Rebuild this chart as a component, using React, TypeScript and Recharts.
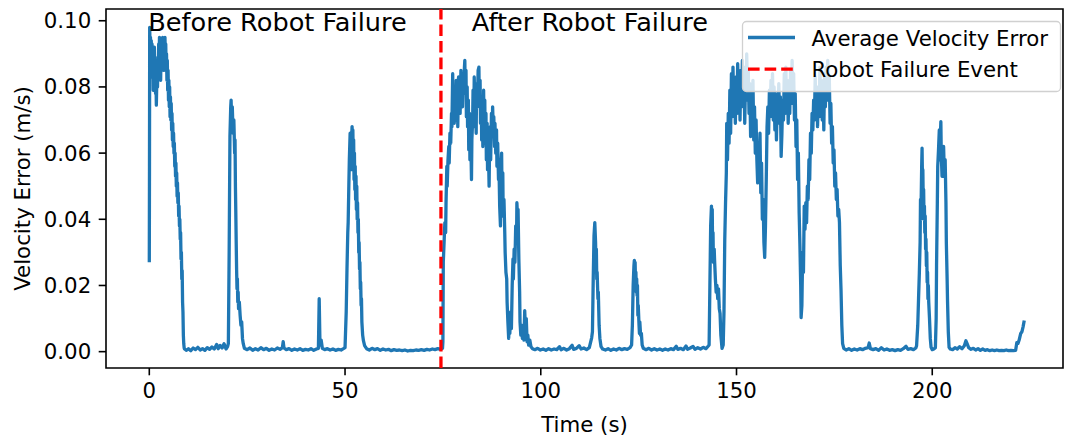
import React from 'react';
import {
  LineChart,
  Line,
  XAxis,
  YAxis,
  ReferenceLine,
  ReferenceArea,
  ReferenceDot,
  Legend,
  Label,
} from 'recharts';

// Time (s) / average velocity error (m/s) samples, one array per stretch of the run.
const burstAtStart: [number, number][] = [
  [0, 0.027], [0.05, 0.056], [0.1, 0.098], [0.2, 0.091], [0.3, 0.095], [0.4, 0.088], [0.5, 0.094],
  [0.6, 0.087], [0.7, 0.093], [0.8, 0.083], [0.9, 0.091], [1.0, 0.079], [1.1, 0.089], [1.2, 0.085],
  [1.3, 0.092], [1.4, 0.084], [1.5, 0.088], [1.6, 0.078], [1.7, 0.083], [1.8, 0.0745], [1.9, 0.081],
  [2.0, 0.086], [2.1, 0.08], [2.2, 0.089], [2.3, 0.083], [2.4, 0.093], [2.5, 0.086], [2.6, 0.095],
  [2.7, 0.084], [2.8, 0.09], [2.9, 0.082], [3.0, 0.091], [3.1, 0.086], [3.2, 0.094], [3.3, 0.088],
  [3.4, 0.095], [3.5, 0.087], [3.6, 0.092], [3.7, 0.085], [3.8, 0.094], [3.9, 0.087], [4.0, 0.095],
  [4.1, 0.089], [4.2, 0.093], [4.3, 0.086], [4.4, 0.09], [4.5, 0.082], [4.6, 0.088], [4.7, 0.079],
  [4.8, 0.085], [4.9, 0.076], [5.0, 0.082], [5.1, 0.074], [5.2, 0.08], [5.3, 0.071], [5.4, 0.077],
  [5.5, 0.07], [5.6, 0.075], [5.7, 0.067], [5.8, 0.072], [5.9, 0.064], [6.0, 0.069], [6.1, 0.062],
  [6.2, 0.066], [6.3, 0.06], [6.4, 0.063], [6.5, 0.056], [6.6, 0.06], [6.7, 0.053], [6.8, 0.057],
  [6.9, 0.05], [7.0, 0.054], [7.1, 0.047], [7.2, 0.051], [7.3, 0.045], [7.4, 0.048], [7.5, 0.041],
  [7.6, 0.044], [7.7, 0.038], [7.8, 0.04], [7.9, 0.034], [8.0, 0.036], [8.1, 0.028], [8.2, 0.03],
  [8.3, 0.022], [8.4, 0.0245], [8.5, 0.015], [8.6, 0.012], [8.7, 0.005], [8.8, 0.0024], [8.9, 0.0012],
  [9.0, 0.0008],
];

const quietBefore1: [number, number][] = [
  [9.5, 0.0004], [10, 0.0009], [10.6, 0.0003], [11.2, 0.0011], [11.8, 0.0006], [12.4, 0.0013],
  [13, 0.0005], [13.6, 0.0009], [14.2, 0.0004], [14.8, 0.0012], [15.4, 0.0007], [16.0, 0.0014],
  [16.6, 0.0008], [17.2, 0.0022], [17.6, 0.0009], [18.1, 0.0019], [18.6, 0.0011], [19.1, 0.0024],
  [19.6, 0.0008], [20.0, 0.0015],
];

const spikeAt21: [number, number][] = [
  [20.2, 0.0025], [20.4, 0.03], [20.6, 0.065], [20.8, 0.074], [20.9, 0.076], [21.0, 0.071],
  [21.2, 0.074], [21.4, 0.066], [21.6, 0.07], [21.8, 0.06], [21.9, 0.064], [22.0, 0.05], [22.1, 0.042],
  [22.2, 0.033], [22.3, 0.025], [22.4, 0.019], [22.5, 0.022], [22.6, 0.015], [22.7, 0.018],
  [22.8, 0.013], [23.0, 0.015], [23.2, 0.011], [23.4, 0.008], [23.6, 0.009], [23.8, 0.004],
  [24.0, 0.0024], [24.3, 0.001],
];

const quietBefore2: [number, number][] = [
  [25, 0.0006], [25.7, 0.0011], [26.4, 0.0004], [27.1, 0.0009], [27.8, 0.0005], [28.5, 0.0012],
  [29.2, 0.0006], [29.9, 0.001], [30.6, 0.0004], [31.3, 0.0008], [32.0, 0.0005], [32.7, 0.0011],
  [33.4, 0.0007], [34.0, 0.0012], [34.2, 0.003], [34.4, 0.0011], [35.0, 0.0006], [35.7, 0.0009],
  [36.4, 0.0004], [37.1, 0.0008], [37.8, 0.0005], [38.5, 0.0009], [39.2, 0.0004], [39.9, 0.0007],
  [40.6, 0.0005], [41.3, 0.0009], [42.0, 0.0004], [42.7, 0.0008], [43.2, 0.001], [43.4, 0.016],
  [43.6, 0.002], [43.9, 0.0035], [44.2, 0.001], [44.8, 0.0006], [45.5, 0.0009], [46.2, 0.0005],
  [46.9, 0.0008], [47.6, 0.0004], [48.3, 0.0007], [49.0, 0.0005], [49.6, 0.0009],
];

const spikeAt52: [number, number][] = [
  [50.0, 0.0012], [50.3, 0.012], [50.5, 0.025], [50.7, 0.036], [50.8, 0.039], [51.0, 0.052],
  [51.1, 0.058], [51.3, 0.066], [51.4, 0.06], [51.5, 0.064], [51.6, 0.055], [51.7, 0.065],
  [51.8, 0.068], [51.9, 0.061], [52.0, 0.067], [52.1, 0.058], [52.2, 0.064], [52.3, 0.052],
  [52.4, 0.06], [52.5, 0.049], [52.6, 0.056], [52.7, 0.046], [52.8, 0.053], [52.9, 0.043],
  [53.0, 0.05], [53.1, 0.04], [53.2, 0.045], [53.3, 0.036], [53.4, 0.04], [53.5, 0.03], [53.6, 0.033],
  [53.7, 0.025], [53.8, 0.027], [53.9, 0.019], [54.0, 0.021], [54.1, 0.014], [54.2, 0.016],
  [54.3, 0.009], [54.5, 0.005], [54.7, 0.0033], [55.0, 0.0018], [55.5, 0.0009],
];

const quietBefore3: [number, number][] = [
  [56.2, 0.0005], [56.9, 0.001], [57.6, 0.0006], [58.3, 0.0009], [59.0, 0.0004], [59.7, 0.0008],
  [60.4, 0.0005], [61.1, 0.0007], [61.8, 0.0003], [62.5, 0.0006], [63.2, 0.0004], [63.9, 0.0005],
  [64.6, 0.0003], [65.3, 0.0005], [66.0, 0.0002], [66.7, 0.0004], [67.4, 0.0003], [68.1, 0.0005],
  [68.8, 0.0004], [69.5, 0.0006], [70.2, 0.0004], [70.9, 0.0007], [71.6, 0.0005], [72.3, 0.0008],
  [73.0, 0.0006], [73.7, 0.0009], [74.4, 0.0007], [74.9, 0.001],
];

const burstAfterFailure: [number, number][] = [
  [75.0, 0.003], [75.1, 0.027], [75.3, 0.033], [75.5, 0.039], [75.7, 0.036], [75.8, 0.045],
  [76.0, 0.056], [76.1, 0.05], [76.3, 0.058], [76.5, 0.062], [76.6, 0.057], [76.8, 0.066],
  [77.0, 0.063], [77.2, 0.072], [77.3, 0.068], [77.5, 0.084], [77.6, 0.071], [77.8, 0.08],
  [77.9, 0.069], [78.1, 0.078], [78.2, 0.072], [78.4, 0.082], [78.5, 0.07], [78.7, 0.079],
  [78.8, 0.068], [79.0, 0.083], [79.1, 0.073], [79.3, 0.081], [79.4, 0.072], [79.6, 0.085],
  [79.7, 0.076], [79.9, 0.082], [80.0, 0.074], [80.2, 0.084], [80.3, 0.078], [80.5, 0.086],
  [80.6, 0.088], [80.7, 0.079], [80.9, 0.085], [81.0, 0.071], [81.2, 0.08], [81.3, 0.068],
  [81.5, 0.076], [81.6, 0.061], [81.8, 0.072], [81.9, 0.058], [82.1, 0.066], [82.3, 0.052],
  [82.4, 0.064], [82.6, 0.07], [82.7, 0.079], [82.9, 0.068], [83.0, 0.083], [83.2, 0.072],
  [83.3, 0.078], [83.5, 0.066], [83.6, 0.081], [83.8, 0.074], [84.0, 0.085], [84.2, 0.086],
  [84.3, 0.075], [84.5, 0.082], [84.6, 0.069], [84.8, 0.077], [84.9, 0.064], [85.1, 0.074],
  [85.2, 0.062], [85.4, 0.079], [85.5, 0.068], [85.7, 0.076], [85.8, 0.063], [86.0, 0.072],
  [86.1, 0.058], [86.3, 0.069], [86.4, 0.055], [86.6, 0.063], [86.8, 0.05], [86.9, 0.06],
  [87.1, 0.068], [87.2, 0.058], [87.4, 0.072], [87.6, 0.065], [87.7, 0.074], [87.9, 0.066],
  [88.0, 0.071], [88.2, 0.062], [88.3, 0.069], [88.5, 0.06], [88.7, 0.067], [88.8, 0.056],
  [89.0, 0.063], [89.2, 0.052], [89.3, 0.058], [89.5, 0.044], [89.7, 0.038], [89.8, 0.055],
  [90.0, 0.06], [90.1, 0.047], [90.3, 0.054], [90.4, 0.041], [90.6, 0.046], [90.8, 0.036],
  [90.9, 0.03], [91.1, 0.024], [91.3, 0.022], [91.4, 0.015], [91.6, 0.009], [91.8, 0.004],
  [91.9, 0.007], [92.1, 0.0055], [92.3, 0.012], [92.5, 0.007], [92.7, 0.02], [92.9, 0.028],
  [93.0, 0.022], [93.2, 0.031], [93.4, 0.027], [93.6, 0.038], [93.8, 0.033], [93.9, 0.045],
  [94.1, 0.04], [94.2, 0.043], [94.4, 0.028], [94.6, 0.018], [94.7, 0.009], [94.9, 0.005],
  [95.1, 0.008], [95.3, 0.004], [95.5, 0.007], [95.7, 0.0035], [95.9, 0.0124], [96.1, 0.006],
  [96.3, 0.01], [96.5, 0.003], [96.7, 0.005], [96.9, 0.002], [97.2, 0.0035], [97.5, 0.0015],
  [97.9, 0.0009],
];

const quietAfter1: [number, number][] = [
  [98.5, 0.0006], [99.2, 0.001], [99.9, 0.0005], [100.6, 0.0008], [101.3, 0.0004], [102.0, 0.0009],
  [102.7, 0.0005], [103.4, 0.0008], [104.1, 0.0006], [104.8, 0.0015], [105.2, 0.0006], [105.9, 0.001],
  [106.6, 0.0005], [107.3, 0.0009], [108.0, 0.0019], [108.4, 0.0007], [109.1, 0.001], [109.8, 0.0018],
  [110.3, 0.0008], [111.0, 0.0011], [111.7, 0.0006], [112.4, 0.0012], [113.0, 0.0042],
];

const spikeAt114: [number, number][] = [
  [113.2, 0.006], [113.4, 0.022], [113.6, 0.035], [113.8, 0.039], [113.9, 0.036], [114.0, 0.033],
  [114.1, 0.026], [114.2, 0.031], [114.3, 0.022], [114.4, 0.024], [114.6, 0.016], [114.7, 0.018],
  [114.9, 0.008], [115.1, 0.004], [115.4, 0.0015], [115.8, 0.0008],
];

const quietAfter2: [number, number][] = [
  [116.5, 0.0005], [117.2, 0.0009], [117.9, 0.0004], [118.6, 0.0008], [119.3, 0.0005], [120.0, 0.001],
  [120.7, 0.0006], [121.4, 0.0009], [122.1, 0.0007], [122.8, 0.0012], [123.2, 0.002],
];

const spikeAt124: [number, number][] = [
  [123.4, 0.008], [123.6, 0.02], [123.8, 0.026], [123.9, 0.0276], [124.0, 0.025], [124.1, 0.027],
  [124.2, 0.021], [124.3, 0.024], [124.4, 0.018], [124.5, 0.022], [124.6, 0.017], [124.7, 0.02],
  [124.8, 0.011], [124.9, 0.014], [125.1, 0.008], [125.2, 0.0055], [125.3, 0.009], [125.5, 0.005],
  [125.7, 0.0055], [125.9, 0.002], [126.2, 0.001],
];

const quietAfter3: [number, number][] = [
  [126.9, 0.0006], [127.6, 0.001], [128.3, 0.0005], [129.0, 0.0009], [129.7, 0.0005], [130.4, 0.0008],
  [131.1, 0.0004], [131.8, 0.0008], [132.5, 0.0005], [133.2, 0.0009], [133.9, 0.0006], [134.6, 0.0016],
  [135.0, 0.0007], [135.7, 0.001], [136.4, 0.0006], [137.1, 0.0017], [137.5, 0.0007], [138.2, 0.0011],
  [138.9, 0.0016], [139.4, 0.0007], [140.1, 0.0012], [140.8, 0.0008], [141.5, 0.0013], [142.2, 0.0009],
  [142.8, 0.0017],
];

const spikeAt144: [number, number][] = [
  [143.0, 0.002], [143.2, 0.02], [143.4, 0.038], [143.6, 0.044], [143.7, 0.033], [143.8, 0.043],
  [143.9, 0.03], [144.0, 0.036], [144.1, 0.027], [144.3, 0.031], [144.4, 0.0276], [144.6, 0.022],
  [144.8, 0.018], [145.0, 0.02], [145.2, 0.016], [145.4, 0.019], [145.6, 0.013], [145.8, 0.0115],
  [146.0, 0.005], [146.3, 0.001], [146.6, 0.002],
];

const longBurst: [number, number][] = [
  [146.8, 0.012], [147.0, 0.034], [147.2, 0.045], [147.4, 0.054], [147.5, 0.069], [147.7, 0.058],
  [147.9, 0.072], [148.1, 0.063], [148.3, 0.079], [148.5, 0.066], [148.7, 0.084], [148.9, 0.071],
  [149.1, 0.086], [149.3, 0.074], [149.5, 0.081], [149.7, 0.069], [149.9, 0.083], [150.1, 0.072],
  [150.3, 0.087], [150.5, 0.076], [150.7, 0.084], [150.9, 0.07], [151.1, 0.085], [151.3, 0.074],
  [151.5, 0.088], [151.7, 0.078], [151.9, 0.086], [152.1, 0.069], [152.3, 0.082], [152.5, 0.076],
  [152.6, 0.09], [152.8, 0.079], [153.0, 0.085], [153.2, 0.072], [153.4, 0.081], [153.6, 0.065],
  [153.8, 0.078], [154.0, 0.068], [154.2, 0.082], [154.4, 0.064], [154.6, 0.074], [154.8, 0.06],
  [155.0, 0.07], [155.2, 0.058], [155.4, 0.051], [155.6, 0.062], [155.8, 0.055], [156.0, 0.066],
  [156.2, 0.048], [156.4, 0.057], [156.6, 0.04], [156.8, 0.046], [157.0, 0.033], [157.2, 0.0285],
  [157.4, 0.038], [157.6, 0.052], [157.8, 0.068], [158.0, 0.074], [158.2, 0.066], [158.4, 0.079],
  [158.6, 0.071], [158.8, 0.082], [159.0, 0.075], [159.2, 0.084], [159.4, 0.07], [159.6, 0.08],
  [159.8, 0.067], [160.0, 0.078], [160.2, 0.064], [160.4, 0.076], [160.6, 0.069], [160.8, 0.081],
  [161.0, 0.07], [161.2, 0.077], [161.4, 0.059], [161.6, 0.066], [161.8, 0.076], [162.0, 0.07],
  [162.2, 0.084], [162.4, 0.072], [162.6, 0.086], [162.8, 0.074], [163.0, 0.082], [163.2, 0.069],
  [163.4, 0.08], [163.6, 0.072], [163.8, 0.085], [164.0, 0.075], [164.2, 0.088], [164.4, 0.077],
  [164.6, 0.084], [164.8, 0.07], [165.0, 0.078], [165.2, 0.062], [165.4, 0.07], [165.6, 0.052],
  [165.8, 0.06], [166.0, 0.042], [166.2, 0.032], [166.4, 0.02], [166.5, 0.0103], [166.7, 0.014],
  [166.9, 0.03], [167.1, 0.024], [167.3, 0.044], [167.5, 0.037], [167.7, 0.045], [167.9, 0.039],
  [168.1, 0.05], [168.3, 0.046], [168.5, 0.058], [168.7, 0.052], [168.9, 0.066], [169.1, 0.06],
  [169.3, 0.072], [169.5, 0.067], [169.7, 0.076], [169.9, 0.07], [170.1, 0.083], [170.3, 0.072],
  [170.5, 0.08], [170.7, 0.068], [170.9, 0.078], [171.1, 0.071], [171.3, 0.086], [171.5, 0.075],
  [171.7, 0.082], [171.9, 0.07], [172.1, 0.079], [172.3, 0.067], [172.5, 0.084], [172.7, 0.074],
  [172.9, 0.086], [173.1, 0.076], [173.3, 0.088], [173.5, 0.078], [173.7, 0.083], [173.9, 0.069],
  [174.1, 0.075], [174.3, 0.063], [174.5, 0.068], [174.7, 0.057], [174.9, 0.061], [175.1, 0.05],
  [175.3, 0.054], [175.5, 0.046], [175.7, 0.049], [175.9, 0.041], [176.1, 0.043], [176.3, 0.039],
  [176.5, 0.026], [176.7, 0.0185], [176.9, 0.008], [177.1, 0.0024], [177.4, 0.001],
];

const quietAfter4: [number, number][] = [
  [178.0, 0.0005], [178.7, 0.0009], [179.4, 0.0004], [180.1, 0.0008], [180.8, 0.0005], [181.5, 0.0009],
  [182.2, 0.0006], [182.9, 0.001], [183.6, 0.0012], [183.9, 0.0026], [184.2, 0.0009], [184.9, 0.0006],
  [185.6, 0.0009], [186.3, 0.0004], [187.0, 0.0012], [187.7, 0.0005], [188.4, 0.0008], [189.1, 0.0004],
  [189.8, 0.0006], [190.5, 0.0003], [191.2, 0.0006], [191.9, 0.0004], [192.6, 0.0009], [193.3, 0.0016],
  [193.8, 0.0007], [194.5, 0.0009], [195.2, 0.0006], [195.8, 0.0011],
];

const twinSpikes: [number, number][] = [
  [196.0, 0.0018], [196.3, 0.008], [196.5, 0.016], [196.7, 0.0236], [196.9, 0.033], [197.0, 0.046],
  [197.1, 0.04], [197.3, 0.056], [197.4, 0.0615], [197.5, 0.052], [197.6, 0.055], [197.7, 0.045],
  [197.8, 0.049], [197.9, 0.04], [198.0, 0.044], [198.1, 0.036], [198.2, 0.041], [198.3, 0.031],
  [198.4, 0.034], [198.5, 0.026], [198.6, 0.03], [198.7, 0.021], [198.8, 0.024], [198.9, 0.016],
  [199.0, 0.02], [199.1, 0.015], [199.3, 0.01], [199.5, 0.004], [199.7, 0.0013], [200.0, 0.0006],
  [200.4, 0.0008], [200.8, 0.0012], [201.0, 0.01], [201.1, 0.026], [201.3, 0.045], [201.4, 0.056],
  [201.6, 0.061], [201.8, 0.067], [201.9, 0.058], [202.1, 0.066], [202.2, 0.0695], [202.3, 0.06],
  [202.5, 0.053], [202.6, 0.061], [202.8, 0.055], [202.9, 0.062], [203.1, 0.053], [203.3, 0.058],
  [203.5, 0.045], [203.6, 0.033], [203.8, 0.022], [203.9, 0.0155], [204.1, 0.006], [204.3, 0.0013],
  [204.6, 0.0008],
];

const quietToEnd: [number, number][] = [
  [205.2, 0.0006], [205.8, 0.0012], [206.4, 0.0008], [207.0, 0.0015], [207.6, 0.0009], [208.2, 0.0018],
  [208.6, 0.0033], [208.9, 0.0024], [209.3, 0.0012], [209.9, 0.0007], [210.5, 0.001], [211.1, 0.0005],
  [211.7, 0.0009], [212.3, 0.0004], [212.9, 0.0008], [213.5, 0.0004], [214.1, 0.0006], [214.7, 0.0003],
  [215.3, 0.0005], [215.9, 0.0003], [216.5, 0.0005], [217.1, 0.0003], [217.7, 0.0004], [218.3, 0.0003],
  [218.9, 0.0005], [219.5, 0.0003], [220.1, 0.0004], [220.7, 0.0003], [221.3, 0.0004], [221.6, 0.0027],
  [221.9, 0.0025], [222.2, 0.0035], [222.6, 0.0055], [222.9, 0.006], [223.2, 0.0075], [223.5, 0.0094],
];

const failureTime = 74.5;

const xTicks = [0, 50, 100, 150, 200];
const yTicks = [0, 0.02, 0.04, 0.06, 0.08, 0.1];

const xDomain: [number, number] = [-11.06, 233.4];
const yDomain: [number, number] = [-0.00494, 0.10355];

const phaseLabels = [
  { text: 'Before Robot Failure', x: 32.75, y: 0.1 },
  { text: 'After Robot Failure', x: 112.55, y: 0.1 },
];

const legendItems = [
  { label: 'Average Velocity Error', color: '#1f77b4', dashed: false },
  { label: 'Robot Failure Event', color: '#ff0000', dashed: true },
];

const series = [
  burstAtStart, quietBefore1, spikeAt21, quietBefore2, spikeAt52, quietBefore3,
  burstAfterFailure, quietAfter1, spikeAt114, quietAfter2, spikeAt124, quietAfter3,
  spikeAt144, longBurst, quietAfter4, twinSpikes, quietToEnd,
].flat().map(([t, v]) => ({ t, v }));

const FONT = '"DejaVu Sans", sans-serif';
const TICK_FONT = 21.3;
const NOTE_FONT = 25.6;
const LINE_W = 3.3;

const tickStyle = { fill: '#000', fontSize: TICK_FONT, fontFamily: FONT };

const YAxisTitle = (props: any) => {
  const vb = props.viewBox || { x: 0, y: 0, height: 0 };
  const cx = vb.x + 22;
  const cy = vb.y + vb.height / 2;
  return (
    <text
      x={cx}
      y={cy}
      transform={`rotate(-90 ${cx} ${cy})`}
      textAnchor="middle"
      dominantBaseline="central"
      fill="#000"
      fontSize={TICK_FONT}
      fontFamily={FONT}
    >
      Velocity Error (m/s)
    </text>
  );
};

const phaseLabel = (text: string) => (props: any) => {
  const vb = props.viewBox || { x: 0, y: 0, width: 0, height: 0 };
  const cx = vb.x + vb.width / 2;
  const cy = vb.y + vb.height / 2;
  return (
    <text x={cx} y={cy} dy="0.42em" textAnchor="middle" fill="#000" fontSize={NOTE_FONT} fontFamily={FONT}>
      {text}
    </text>
  );
};

const LegendBox = () => (
  <svg width={320} height={72} style={{ display: 'block', overflow: 'visible' }}>
    <rect x={0.5} y={0.5} width={318} height={70} rx={4} ry={4}
      fill="rgba(255,255,255,0.8)" stroke="#d0d0d0" strokeWidth={1.3} />
    {legendItems.map((item, i) => {
      const cy = 16.5 + i * 31.7;
      return (
        <g key={item.label}>
          <line x1={6} x2={53} y1={cy} y2={cy} stroke={item.color} strokeWidth={LINE_W}
            strokeDasharray={item.dashed ? '11.6 5' : undefined} />
          <text x={69.5} y={cy + 8} fill="#000" fontSize={TICK_FONT} fontFamily={FONT}>
            {item.label}
          </text>
        </g>
      );
    })}
  </svg>
);

export default function App() {
  return (
    <div style={{ position: 'absolute', left: 0, top: 0, width: 1065, height: 437, background: '#fff' }}>
      <LineChart
        width={1065}
        height={437}
        data={series}
        margin={{ top: 9, right: 2, bottom: 0, left: 0 }}
      >
        <ReferenceArea
          x1={xDomain[0]}
          x2={xDomain[1]}
          y1={yDomain[0]}
          y2={yDomain[1]}
          fill="none"
          stroke="#000"
          strokeWidth={1.6}
          ifOverflow="visible"
        />
        <XAxis
          dataKey="t"
          type="number"
          domain={xDomain}
          ticks={xTicks}
          allowDataOverflow
          height={69}
          axisLine={false}
          tickLine={{ stroke: '#000', strokeWidth: 1.6 }}
          tickSize={7.3}
          tickMargin={8}
          tick={tickStyle}
          interval={0}
          label={{ value: 'Time (s)', position: 'insideBottom', offset: 5, fill: '#000', fontSize: TICK_FONT, fontFamily: FONT }}
        />
        <YAxis
          type="number"
          domain={yDomain}
          ticks={yTicks}
          allowDataOverflow
          width={106}
          axisLine={false}
          tickLine={{ stroke: '#000', strokeWidth: 1.6 }}
          tickSize={7.3}
          tickMargin={7.5}
          tick={tickStyle}
          interval={0}
          tickFormatter={(v: number) => v.toFixed(2)}
          label={<Label content={YAxisTitle} />}
        />
        <Line
          type="linear"
          dataKey="v"
          name="Average Velocity Error"
          stroke="#1f77b4"
          strokeWidth={LINE_W}
          strokeLinejoin="round"
          dot={false}
          activeDot={false}
          isAnimationActive={false}
        />
        <ReferenceLine
          x={failureTime}
          stroke="#ff0000"
          strokeWidth={LINE_W}
          strokeDasharray="11.6 5"
        />
        {phaseLabels.map((p) => (
          <ReferenceDot
            key={p.text}
            x={p.x}
            y={p.y}
            r={1}
            fill="none"
            stroke="none"
            ifOverflow="visible"
            label={<Label content={phaseLabel(p.text)} />}
          />
        ))}
        <Legend
          layout="vertical"
          align="center"
          verticalAlign="middle"
          wrapperStyle={{ left: 742, top: 21, width: 320, height: 72 }}
          content={() => <LegendBox />}
        />
      </LineChart>
    </div>
  );
}
